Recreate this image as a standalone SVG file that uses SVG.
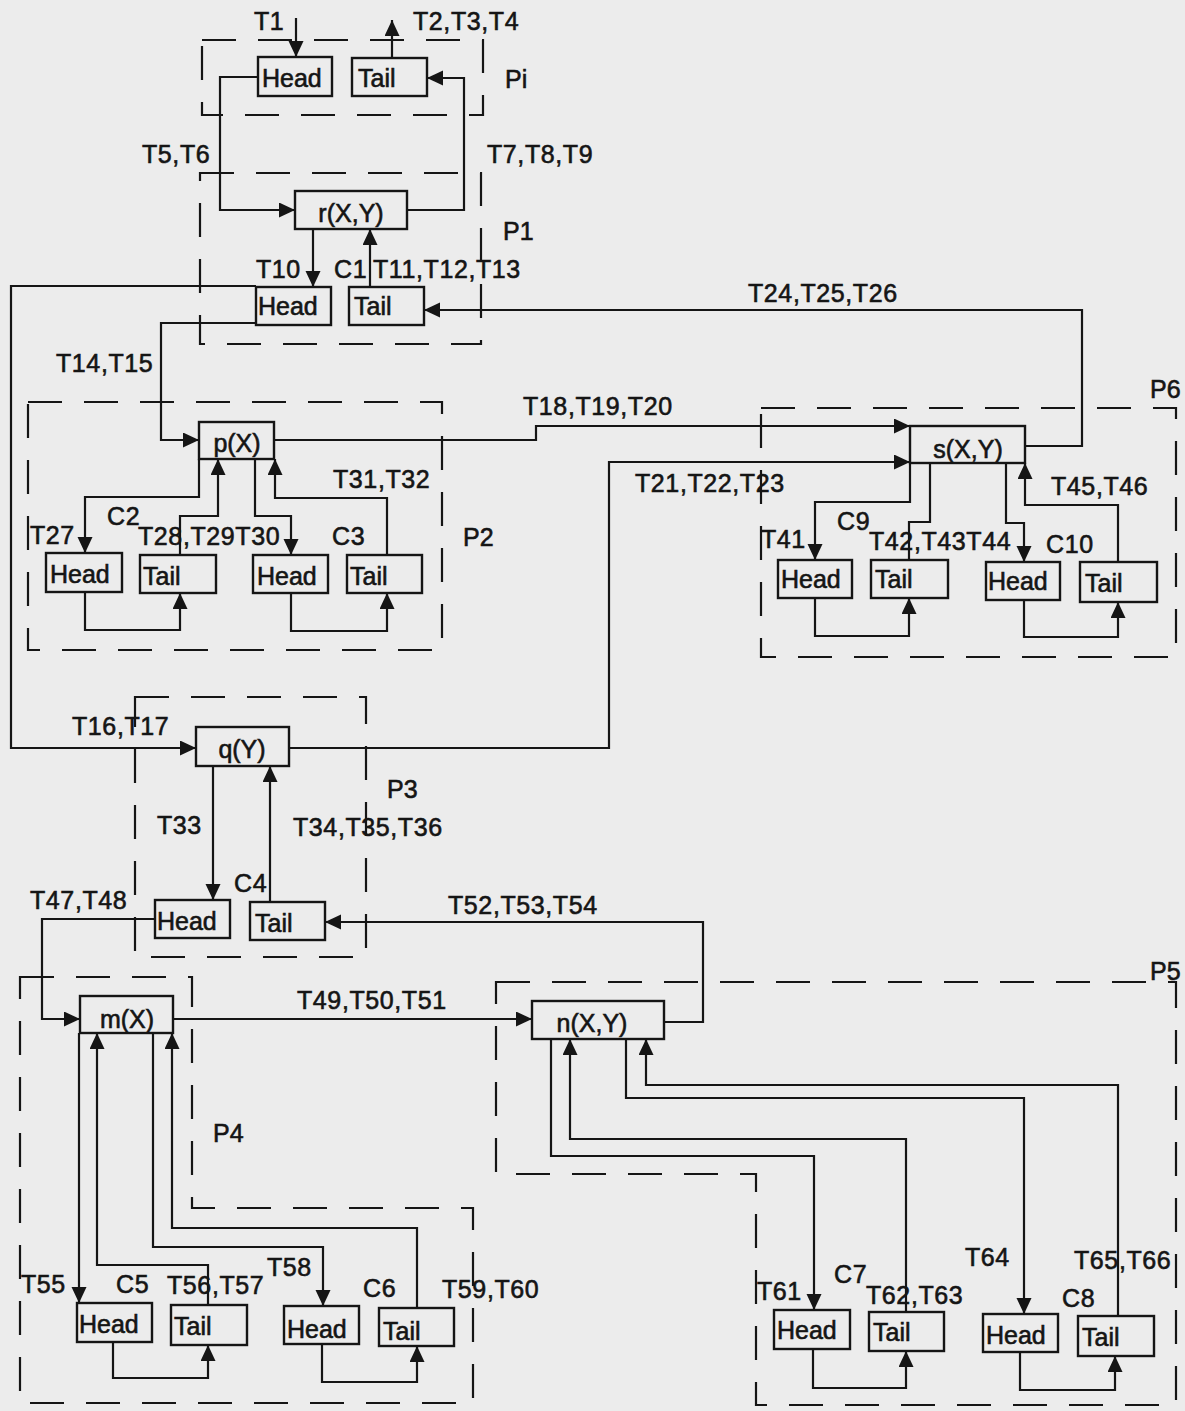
<svg xmlns="http://www.w3.org/2000/svg" width="1185" height="1411" viewBox="0 0 1185 1411">
<style>
.bx{fill:none;stroke:#151515;stroke-width:2.4}
.ln{fill:none;stroke:#151515;stroke-width:2.2}
.ar{marker-end:url(#ah)}
.pt{fill:none;stroke:#151515;stroke-width:2.2;stroke-dasharray:34 22}
text{font-family:"Liberation Sans",Arial,Helvetica,sans-serif;font-size:25px;fill:#151515;stroke:#151515;stroke-width:0.6}
.lb{letter-spacing:0.6px}
.c{text-anchor:middle}
</style>
<defs>
<marker id="ah" markerUnits="userSpaceOnUse" markerWidth="18" markerHeight="16" refX="16" refY="7.5" orient="auto">
<path d="M0,0 L16,7.5 L0,15 Z" fill="#151515"/>
</marker>
</defs>
<rect x="0" y="0" width="1185" height="1411" fill="#ececec"/>

<g id="partitions">
<rect class="pt" x="202" y="40" width="281" height="75"/>
<rect class="pt" x="200" y="173" width="281" height="171"/>
<rect class="pt" x="28" y="402" width="414" height="248"/>
<rect class="pt" x="761" y="408" width="415" height="249"/>
<rect class="pt" x="135" y="697" width="231" height="260"/>
<path class="pt" d="M20,977 H192 V1208 H473 V1403 H20 Z"/>
<path class="pt" d="M496,982 H1176 V1405 H756 V1174 H496 Z"/>
<text x="505" y="88">Pi</text>
<text x="503" y="240">P1</text>
<text x="463" y="546">P2</text>
<text x="387" y="798">P3</text>
<text x="213" y="1142">P4</text>
<text x="1150" y="980">P5</text>
<text x="1150" y="398">P6</text>
</g>

<g id="connectors">
<path class="ln ar" d="M296,18 V57"/>
<path class="ln ar" d="M392,58 V20"/>
<path class="ln ar" d="M258,77 H220 V210 H295"/>
<path class="ln ar" d="M407,210 H464 V78 H427"/>
<path class="ln ar" d="M313,229 V287"/>
<path class="ln ar" d="M370,287 V229"/>
<path class="ln ar" d="M1025,446 H1082 V310 H424"/>
<path class="ln ar" d="M256,286 H11 V748 H196"/>
<path class="ln ar" d="M256,323 H161 V440 H199"/>
<path class="ln ar" d="M274,440 H536 V426 H910"/>
<path class="ln ar" d="M289,748 H609 V462 H910"/>
<path class="ln ar" d="M199,459 V497 H85 V553"/>
<path class="ln ar" d="M180,555 V516 H218 V459"/>
<path class="ln ar" d="M255,459 V516 H291 V555"/>
<path class="ln ar" d="M387,555 V498 H275 V459"/>
<path class="ln ar" d="M85,592 V630 H180 V593"/>
<path class="ln ar" d="M291,593 V631 H387 V593"/>
<path class="ln ar" d="M910,463 V502 H815 V560"/>
<path class="ln" d="M909,560 V522 H930 V463"/>
<path class="ln ar" d="M1006,463 V523 H1024 V562"/>
<path class="ln ar" d="M1118,562 V505 H1025 V463"/>
<path class="ln ar" d="M815,598 V636 H909 V598"/>
<path class="ln ar" d="M1024,600 V637 H1118 V602"/>
<path class="ln ar" d="M213,766 V900"/>
<path class="ln ar" d="M270,902 V766"/>
<path class="ln ar" d="M664,1022 H703 V922 H325"/>
<path class="ln ar" d="M155,919 H42 V1019 H80"/>
<path class="ln ar" d="M173,1019 H532"/>
<path class="ln ar" d="M79,1033 V1303"/>
<path class="ln ar" d="M208,1305 V1265 H97 V1033"/>
<path class="ln ar" d="M153,1033 V1247 H323 V1306"/>
<path class="ln ar" d="M417,1308 V1228 H172 V1033"/>
<path class="ln ar" d="M113,1342 V1378 H208 V1345"/>
<path class="ln ar" d="M322,1344 V1382 H417 V1346"/>
<path class="ln ar" d="M551,1039 V1156 H814 V1310"/>
<path class="ln ar" d="M906,1312 V1139 H570 V1039"/>
<path class="ln ar" d="M626,1039 V1098 H1024 V1314"/>
<path class="ln ar" d="M1118,1316 V1085 H646 V1039"/>
<path class="ln ar" d="M813,1349 V1388 H906 V1351"/>
<path class="ln ar" d="M1020,1352 V1390 H1115 V1356"/>
</g>

<g id="labels" class="lb">
<text x="254" y="30">T1</text>
<text x="413" y="30">T2,T3,T4</text>
<text x="142" y="163">T5,T6</text>
<text x="487" y="163">T7,T8,T9</text>
<text x="256" y="278">T10</text>
<text x="334" y="278">C1</text>
<text x="373" y="278">T11,T12,T13</text>
<text x="748" y="302">T24,T25,T26</text>
<text x="56" y="372">T14,T15</text>
<text x="523" y="415">T18,T19,T20</text>
<text x="635" y="492">T21,T22,T23</text>
<text x="333" y="488">T31,T32</text>
<text x="30" y="544">T27</text>
<text x="107" y="525">C2</text>
<text x="138" y="545">T28,T29T30</text>
<text x="332" y="545">C3</text>
<text x="1051" y="495">T45,T46</text>
<text x="761" y="548">T41</text>
<text x="837" y="530">C9</text>
<text x="869" y="550">T42,T43T44</text>
<text x="1046" y="553">C10</text>
<text x="72" y="735">T16,T17</text>
<text x="157" y="834">T33</text>
<text x="293" y="836">T34,T35,T36</text>
<text x="234" y="892">C4</text>
<text x="30" y="909">T47,T48</text>
<text x="448" y="914">T52,T53,T54</text>
<text x="297" y="1009">T49,T50,T51</text>
<text x="21" y="1293">T55</text>
<text x="116" y="1293">C5</text>
<text x="167" y="1294">T56,T57</text>
<text x="267" y="1276">T58</text>
<text x="363" y="1297">C6</text>
<text x="442" y="1298">T59,T60</text>
<text x="757" y="1300">T61</text>
<text x="834" y="1283">C7</text>
<text x="866" y="1304">T62,T63</text>
<text x="965" y="1266">T64</text>
<text x="1062" y="1307">C8</text>
<text x="1074" y="1269">T65,T66</text>
</g>

<g id="Pi-head"><rect class="bx" x="258" y="57" width="74" height="39"/><text x="262" y="87">Head</text></g>
<g id="Pi-tail"><rect class="bx" x="352" y="58" width="75" height="38"/><text x="358" y="87">Tail</text></g>
<g id="r"><rect class="bx" x="295" y="191" width="112" height="38"/><text class="c" x="351" y="222">r(X,Y)</text></g>
<g id="C1-head"><rect class="bx" x="256" y="287" width="75" height="38"/><text x="258" y="315">Head</text></g>
<g id="C1-tail"><rect class="bx" x="349" y="287" width="75" height="38"/><text x="354" y="315">Tail</text></g>

<g id="p"><rect class="bx" x="199" y="422" width="75" height="37"/><text class="c" x="237" y="452">p(X)</text></g>
<g id="C2-head"><rect class="bx" x="46" y="553" width="76" height="39"/><text x="50" y="583">Head</text></g>
<g id="C2-tail"><rect class="bx" x="140" y="555" width="76" height="38"/><text x="143" y="585">Tail</text></g>
<g id="C3-head"><rect class="bx" x="253" y="555" width="75" height="38"/><text x="257" y="585">Head</text></g>
<g id="C3-tail"><rect class="bx" x="347" y="555" width="75" height="38"/><text x="350" y="585">Tail</text></g>

<g id="s"><rect class="bx" x="910" y="426" width="115" height="37"/><text class="c" x="968" y="458">s(X,Y)</text></g>
<g id="C9-head"><rect class="bx" x="778" y="560" width="74" height="38"/><text x="781" y="588">Head</text></g>
<g id="C9-tail"><rect class="bx" x="871" y="560" width="77" height="38"/><text x="875" y="588">Tail</text></g>
<g id="C10-head"><rect class="bx" x="986" y="562" width="74" height="38"/><text x="988" y="590">Head</text></g>
<g id="C10-tail"><rect class="bx" x="1080" y="562" width="77" height="40"/><text x="1085" y="592">Tail</text></g>

<g id="q"><rect class="bx" x="196" y="727" width="93" height="39"/><text class="c" x="242" y="758">q(Y)</text></g>
<g id="C4-head"><rect class="bx" x="155" y="900" width="75" height="38"/><text x="157" y="930">Head</text></g>
<g id="C4-tail"><rect class="bx" x="250" y="902" width="75" height="38"/><text x="255" y="932">Tail</text></g>

<g id="m"><rect class="bx" x="80" y="996" width="93" height="37"/><text class="c" x="127" y="1028">m(X)</text></g>
<g id="C5-head"><rect class="bx" x="77" y="1303" width="75" height="39"/><text x="79" y="1333">Head</text></g>
<g id="C5-tail"><rect class="bx" x="171" y="1305" width="76" height="40"/><text x="174" y="1335">Tail</text></g>
<g id="C6-head"><rect class="bx" x="284" y="1306" width="75" height="38"/><text x="287" y="1338">Head</text></g>
<g id="C6-tail"><rect class="bx" x="379" y="1308" width="75" height="38"/><text x="383" y="1340">Tail</text></g>

<g id="n"><rect class="bx" x="532" y="1001" width="132" height="38"/><text class="c" x="592" y="1032">n(X,Y)</text></g>
<g id="C7-head"><rect class="bx" x="774" y="1310" width="76" height="39"/><text x="777" y="1339">Head</text></g>
<g id="C7-tail"><rect class="bx" x="869" y="1312" width="75" height="39"/><text x="873" y="1341">Tail</text></g>
<g id="C8-head"><rect class="bx" x="983" y="1314" width="75" height="38"/><text x="986" y="1344">Head</text></g>
<g id="C8-tail"><rect class="bx" x="1078" y="1316" width="76" height="40"/><text x="1082" y="1346">Tail</text></g>
</svg>
